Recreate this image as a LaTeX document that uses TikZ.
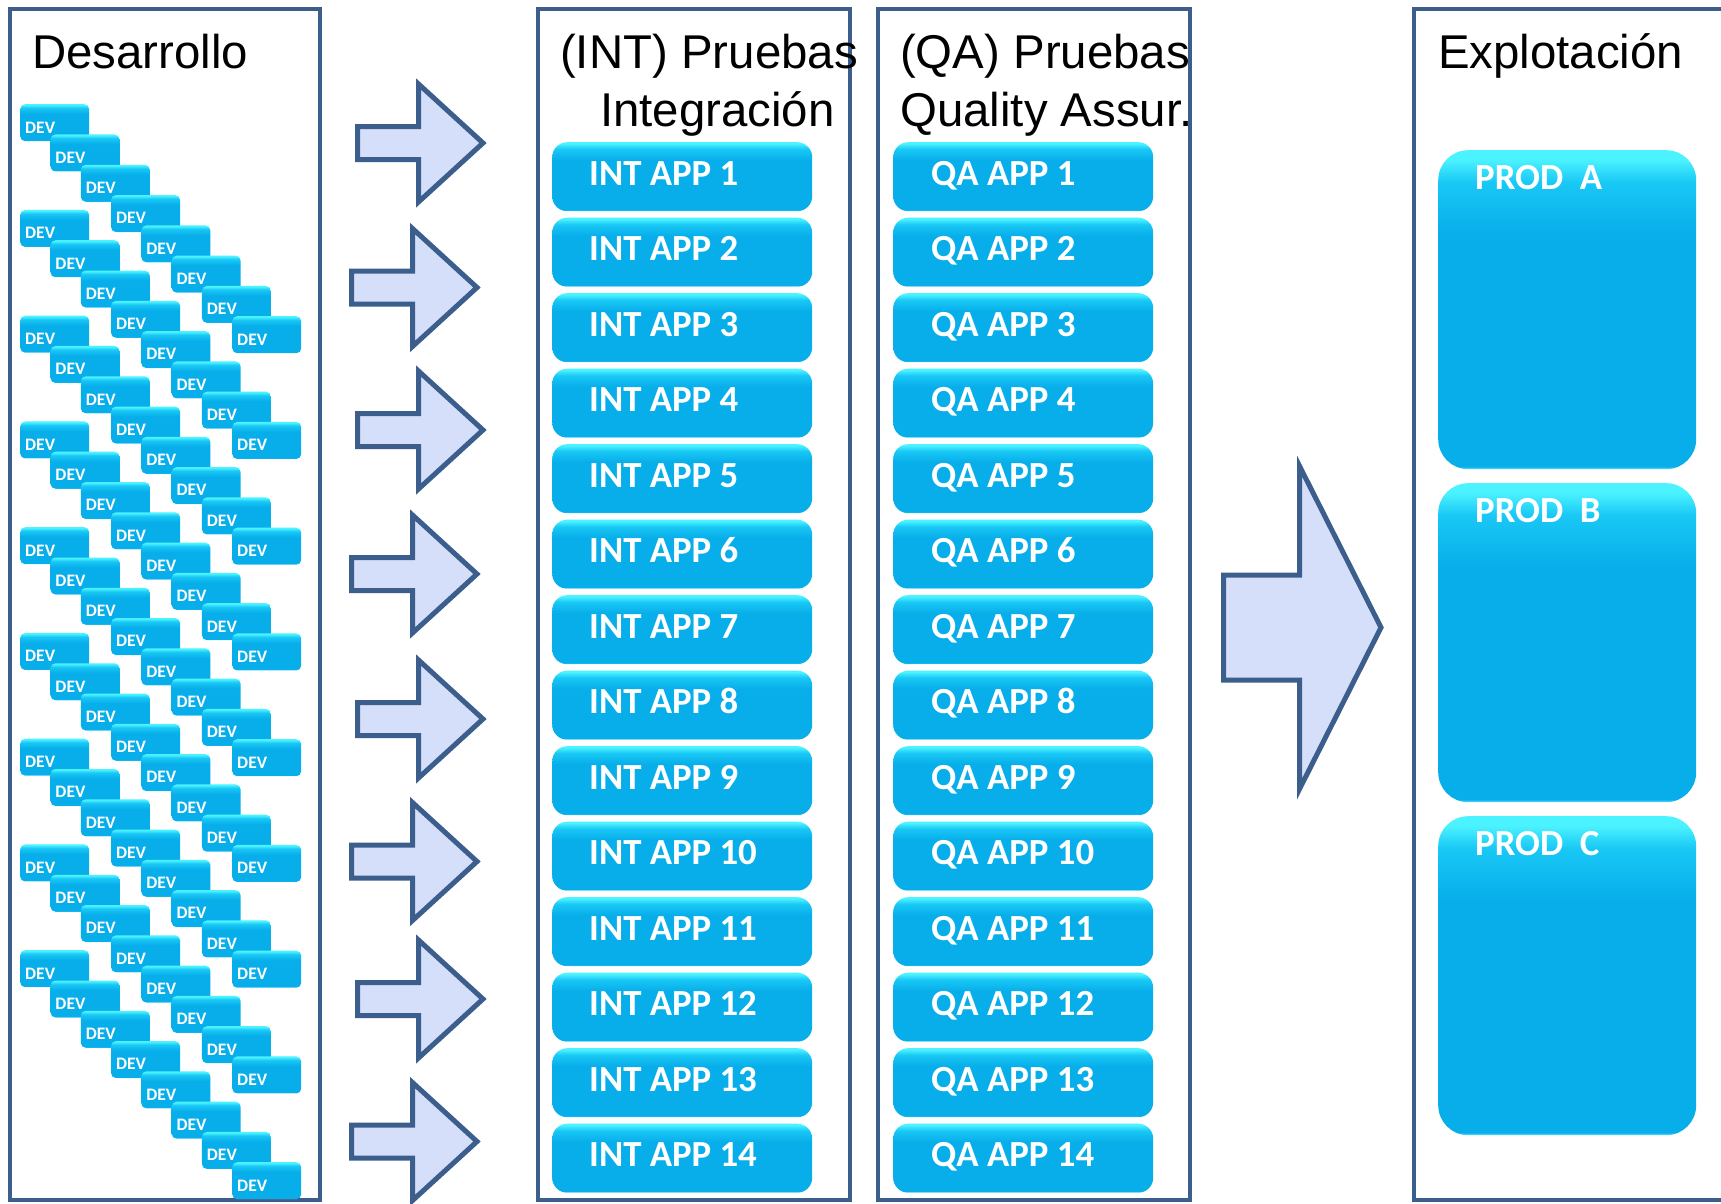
\documentclass[tikz,border=0pt]{standalone}
\usepackage{fontspec}
\setmainfont{Liberation Sans}
\newfontfamily\btnfont{Carlito}
\usetikzlibrary{calc}
\definecolor{frameblue}{RGB}{59,94,140}
\definecolor{arrowfill}{RGB}{214,223,250}
\definecolor{gbase}{RGB}{8,174,234}
\definecolor{gedge}{RGB}{110,232,255}
\definecolor{gmid}{RGB}{25,200,245}
\definecolor{gtop}{RGB}{75,242,255}
\pgfdeclareverticalshading{btnshade}{100bp}{color(0bp)=(gedge); color(25bp)=(gedge); color(26bp)=(gbase); color(62bp)=(gbase); color(70bp)=(gmid); color(74bp)=(gtop); color(100bp)=(gtop)}
\pgfdeclareverticalshading{prodshade}{100bp}{color(0bp)=(gedge); color(25bp)=(gedge); color(25.4bp)=(gbase); color(62bp)=(gbase); color(70bp)=(gmid); color(73.5bp)=(gtop); color(100bp)=(gtop)}
\begin{document}
\begin{tikzpicture}[x=1pt,y=-1pt,
  frame/.style={draw=frameblue,line width=4pt},
  devbox/.style={shape=rectangle,rounded corners=5pt,minimum width=69pt,minimum height=37pt,inner sep=0pt,anchor=north west,shade,shading=btnshade},
  devtext/.style={anchor=base west,inner sep=0pt,text=white,font=\btnfont\bfseries\fontsize{17.5}{20}\selectfont},
  appbox/.style={shape=rectangle,rounded corners=15pt,minimum width=260pt,minimum height=69pt,inner sep=0pt,anchor=north west,shade,shading=btnshade},
  apptext/.style={anchor=base west,inner sep=0pt,text=white,font=\btnfont\bfseries\fontsize{36.8}{40}\selectfont},
  prodbox/.style={shape=rectangle,rounded corners=30pt,minimum width=258pt,minimum height=319pt,inner sep=0pt,anchor=north west,shade,shading=prodshade},
  title/.style={anchor=base west,inner sep=0pt,font=\fontsize{47.4}{56}\selectfont},
  flow/.style={draw=frameblue,line width=5pt,fill=arrowfill,line join=miter}
]
\useasboundingbox[fill=white] (0,0) rectangle (1721,1203);
% frames
\draw[frame] (9.5,9) rectangle (320,1200);
\draw[frame] (538,9) rectangle (849.5,1200);
\draw[frame] (878,9) rectangle (1190,1200);
\draw[frame] (1730,9) -- (1414,9) -- (1414,1200) -- (1730,1200);
% titles
\node[title] (t-dev) at (32,68) {Desarrollo};
\node[title] (t-int1) at (560,68) {(INT) Pruebas};
\node[title] (t-int2) at (600,126) {Integración};
\node[title] (t-qa1) at (900,68) {(QA) Pruebas};
\node[title] (t-qa2) at (900,126) {Quality Assur.};
\node[title] (t-exp) at (1438,68) {Explotación};
% DEV boxes
\foreach \c in {0,...,8}{
  \foreach \k in {0,...,7}{
    \pgfmathsetmacro\xx{20+30.29*\k}
    \pgfmathsetmacro\yy{104+105.75*\c+30.29*\k}
    \node[devbox] (dev-\c-\k) at (\xx,\yy) {};
    \node[devtext] (devt-\c-\k) at ($(dev-\c-\k.north west)+(5,29)$) {DEV};
  }
}
% INT / QA boxes
\foreach \i in {1,...,14}{
  \pgfmathsetmacro\yy{142+75.5*(\i-1)}
  \node[appbox] (int-\i) at (552,\yy) {};
  \node[apptext] (intt-\i) at ($(int-\i.north west)+(37,43)$) {INT APP \i};
  \node[appbox] (qa-\i) at (893,\yy) {};
  \node[apptext] (qat-\i) at ($(qa-\i.north west)+(38,43)$) {QA APP \i};
}
% PROD boxes
\foreach \p/\yy in {A/150,B/483,C/816}{
  \node[prodbox] (prod-\p) at (1438,\yy) {};
  \node[apptext] (prodt-\p) at ($(prod-\p.north west)+(37,39)$) {PROD\ \ \p};
}
% small arrows
\foreach \yc/\xl in {143/355, 287.5/349, 430/355, 574/349, 719/355, 861.5/349, 999/355, 1141.5/349}{
  \draw[flow] ({\xl+2.5},{\yc-16.5}) -- ({\xl+63.5},{\yc-16.5}) -- ({\xl+63.5},{\yc-59}) -- ({\xl+128},\yc) -- ({\xl+63.5},{\yc+59}) -- ({\xl+63.5},{\yc+16.5}) -- ({\xl+2.5},{\yc+16.5}) -- cycle;
}
% big arrow
\draw[flow] (1223.5,575) -- (1299.5,575) -- (1299.5,466) -- (1381,627.5) -- (1299.5,789) -- (1299.5,680) -- (1223.5,680) -- cycle;
\end{tikzpicture}
\end{document}
